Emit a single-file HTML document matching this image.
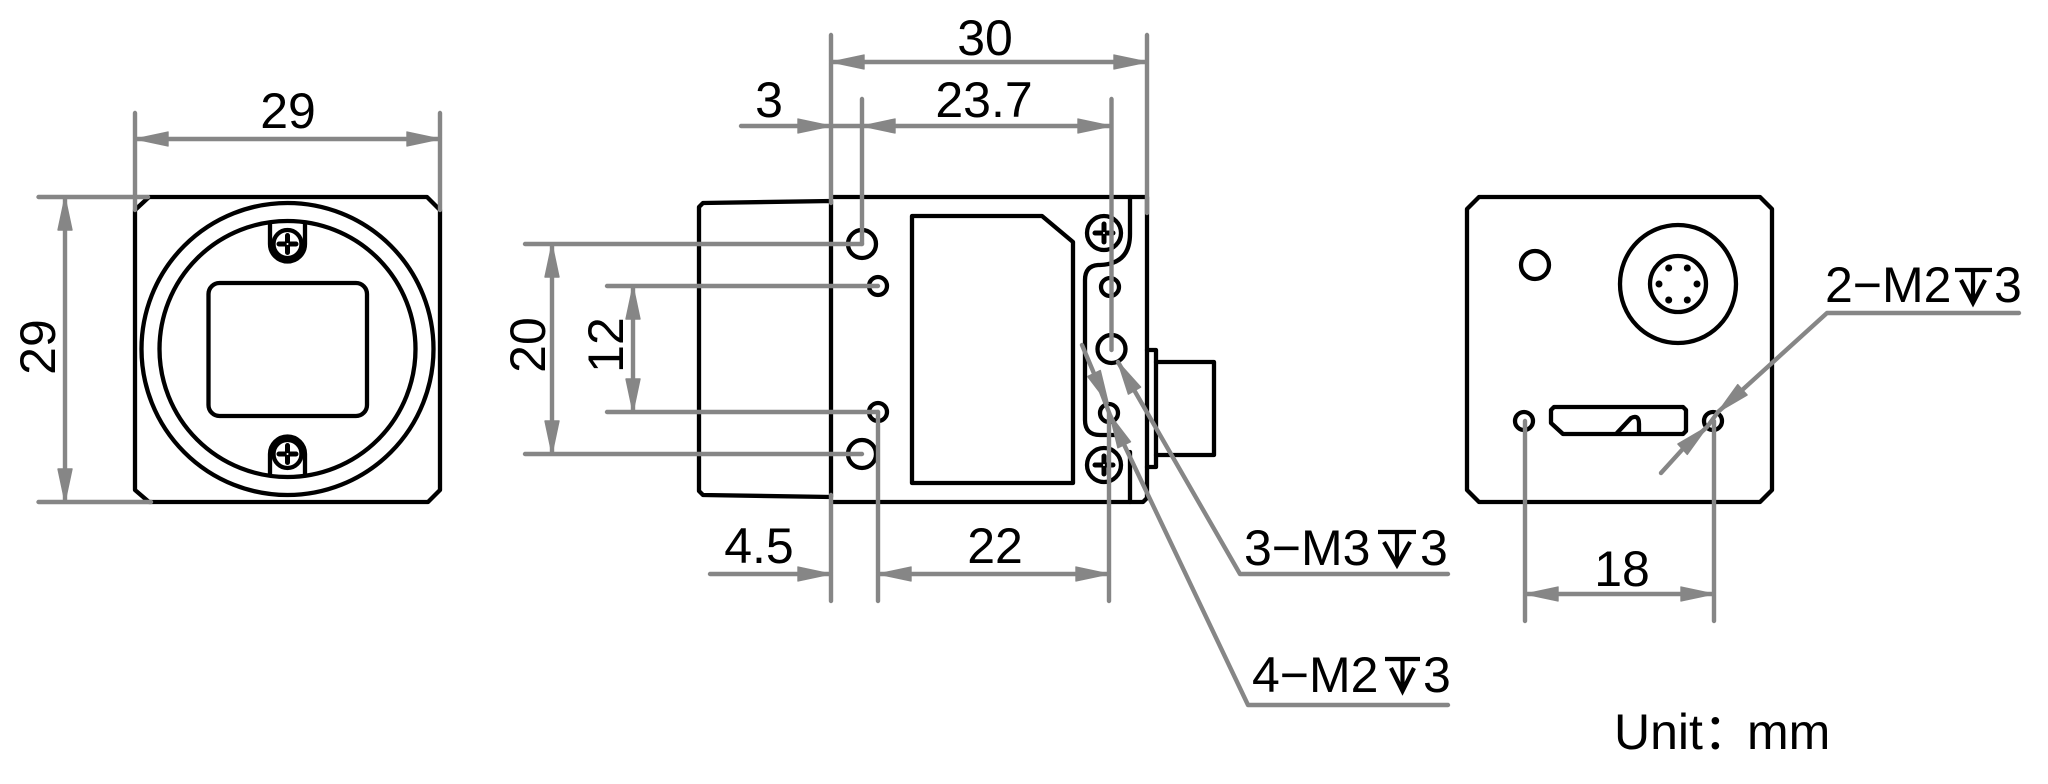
<!DOCTYPE html>
<html><head><meta charset="utf-8"><style>
html,body{margin:0;padding:0;background:#fff}
svg{display:block}
text{font-family:"Liberation Sans","Noto Sans CJK SC",sans-serif;font-size:50px;fill:#000}
.k{fill:none;stroke:#000;stroke-width:4.3;stroke-linejoin:round;stroke-linecap:round}
.g{fill:none;stroke:#868686;stroke-width:4.4;stroke-linecap:round;stroke-linejoin:round}
.a{fill:#868686;stroke:#868686;stroke-width:1.4;stroke-linejoin:round}
.s{fill:none;stroke:#000;stroke-width:5;stroke-linecap:round}
.d{fill:none;stroke:#000;stroke-width:4.2}
</style></head><body>
<svg width="2048" height="784" viewBox="0 0 2048 784" xmlns="http://www.w3.org/2000/svg">
<rect width="2048" height="784" fill="#fff"/>

<!-- Left view -->
<path class="k" d="M149 197H427L440 210V490L428 502H149L135 490V210Z"/>
<circle class="k" cx="287.5" cy="349" r="146"/>
<circle class="k" cx="287.5" cy="349" r="128"/>
<rect class="k" x="208.5" y="283" width="158.5" height="133" rx="11"/>
<path class="k" d="M270 223V244A17.5 17.5 0 0 0 305 244V223"/>
<circle class="k" cx="287.5" cy="244" r="14"/>
<path class="s" d="M279 244H296M287.5 235.5V252.5"/>
<circle cx="287.5" cy="244" r="1" fill="#fff"/>
<path class="k" d="M270 475V454A17.5 17.5 0 0 1 305 454V475"/>
<circle class="k" cx="287.5" cy="454" r="14"/>
<path class="s" d="M279 454H296M287.5 445.5V462.5"/>
<circle cx="287.5" cy="454" r="1" fill="#fff"/>

<!-- Side view -->
<path class="k" d="M831 201L703 203L699 207V491L703 495L831 497V201"/>
<path class="k" d="M833 197H1147V498L1143 502H833"/>
<path class="k" d="M912 216H1042L1073 242V483H912Z"/>
<circle class="k" cx="862" cy="244" r="14"/>
<circle class="k" cx="878" cy="286" r="9"/>
<circle class="k" cx="878" cy="412" r="9"/>
<circle class="k" cx="862" cy="454" r="14"/>
<circle class="k" cx="1104" cy="233" r="17"/>
<circle class="k" cx="1104" cy="465" r="17"/>
<path class="s" d="M1095 233H1113M1104 224V242"/>
<path class="s" d="M1095 465H1113M1104 456V474"/>
<circle cx="1104" cy="233" r="1" fill="#fff"/>
<circle cx="1104" cy="465" r="1" fill="#fff"/>
<circle class="k" cx="1110" cy="287" r="9"/>
<circle class="k" cx="1111.5" cy="349" r="14"/>
<circle class="k" cx="1109" cy="413" r="9"/>
<path class="k" d="M1130 197V234Q1130 264 1100 265H1098Q1085 266 1085 280V420Q1085 435 1100 435H1115"/>
<path class="k" d="M1130 452V502"/>
<path class="k" d="M1147 350H1156V467H1147"/>
<path class="k" d="M1156 362H1214V455H1156"/>

<!-- Rear view -->
<path class="k" d="M1479 197H1760L1772 209V490L1760 502H1479L1467 490V209Z"/>
<circle class="k" cx="1535" cy="265" r="14"/>
<ellipse class="k" cx="1678" cy="284" rx="58" ry="59"/>
<circle class="k" cx="1678" cy="284" r="28"/>
<g fill="#000"><circle cx="1668.7" cy="268" r="3.5"/><circle cx="1687.3" cy="268" r="3.5"/><circle cx="1659" cy="284" r="3.5"/><circle cx="1697" cy="284" r="3.5"/><circle cx="1668.7" cy="300" r="3.5"/><circle cx="1687.3" cy="300" r="3.5"/></g>
<circle class="k" cx="1524" cy="421" r="9"/>
<circle class="k" cx="1713" cy="421" r="9"/>
<path class="k" d="M1554 407H1683L1686 410V431L1683 434H1563L1551 423V410Z"/>
<path class="k" d="M1617 433L1631 418Q1639 414 1639 424V433"/>

<!-- Dimension lines -->
<g class="g">
<path d="M135 113V210M440 113V210M135 139H440"/>
<path d="M38.500 197H148M38.500 502H151M65 197V502"/>
<path d="M831 35V203M1147 35V213M831 62H1147"/>
<path d="M862 99V244M1111.5 99V350M741 126H1111"/>
<path d="M525 244H862M525 454H862M552 244V454"/>
<path d="M607 286H878M607 412H878M633 286V412"/>
<path d="M831 495V601M878 412V601M1109 413V601M710 574H831M878 574H1109"/>
<path d="M1448 574H1240L1118 362"/>
<path d="M1448 705H1248L1110 415L1094 373.5L1082 345"/>
<path d="M1525 421V621M1714 421V621M1525 594H1714"/>
<path d="M2019 313H1827L1718 412L1707 427L1682.6 449.2L1661 473"/>
</g>
<g class="a">
<polygon points="135,139 168,132 168,146"/><polygon points="440,139 407,132 407,146"/>
<polygon points="65,197 58,230 72,230"/><polygon points="65,502 58,469 72,469"/>
<polygon points="831,62 864,55 864,69"/><polygon points="1147,62 1114,55 1114,69"/>
<polygon points="831,126 798,119 798,133"/><polygon points="862,126 895,119 895,133"/><polygon points="1111,126 1078,119 1078,133"/>
<polygon points="552,244 545,277 559,277"/><polygon points="552,454 545,421 559,421"/>
<polygon points="633,286 626,319 640,319"/><polygon points="633,412 626,379 640,379"/>
<polygon points="831,574 798,567 798,581"/><polygon points="878,574 911,567 911,581"/><polygon points="1109,574 1076,567 1076,581"/>
<polygon points="1525,594 1558,587 1558,601"/><polygon points="1714,594 1681,587 1681,601"/>
<polygon points="1118,362 1128.4,394.1 1140.6,387.1"/>
<polygon points="1110,415 1117.9,447.8 1130.5,441.8"/>
<polygon points="1108.2,403.3 1087.7,376.5 1100.3,370.5"/>
<polygon points="1718,412 1747.1,395 1737.7,384.6"/>
<polygon points="1707,427 1687.3,454.4 1677.9,444"/>
</g>

<!-- Labels -->
<text x="288" y="128" text-anchor="middle">29</text>
<text transform="translate(55 347) rotate(-90)" text-anchor="middle">29</text>
<text x="985" y="55" text-anchor="middle">30</text>
<text x="769" y="117" text-anchor="middle">3</text>
<text x="984" y="117" text-anchor="middle">23.7</text>
<text transform="translate(545 345) rotate(-90)" text-anchor="middle">20</text>
<text transform="translate(623 345) rotate(-90)" text-anchor="middle">12</text>
<text x="759" y="563" text-anchor="middle">4.5</text>
<text x="995" y="563" text-anchor="middle">22</text>
<text x="1622" y="586" text-anchor="middle">18</text>

<text x="1244" y="565">3−M3</text>
<path class="d" d="M1378 532H1416M1397 532V563M1384 542L1397 565L1410 542"/>
<text x="1420" y="565">3</text>

<text x="1252" y="692">4−M2</text>
<path class="d" d="M1385 659H1420M1402.500 659V689M1391 668L1402.500 691L1414 668"/>
<text x="1423" y="692">3</text>

<text x="1825" y="302">2−M2</text>
<path class="d" d="M1955 270H1992M1973 270V301M1961 280L1973 303L1985 280"/>
<text x="1994" y="302">3</text>

<text x="1614" y="749">Unit：</text>
<text x="1747" y="749">mm</text>
</svg>
</body></html>
